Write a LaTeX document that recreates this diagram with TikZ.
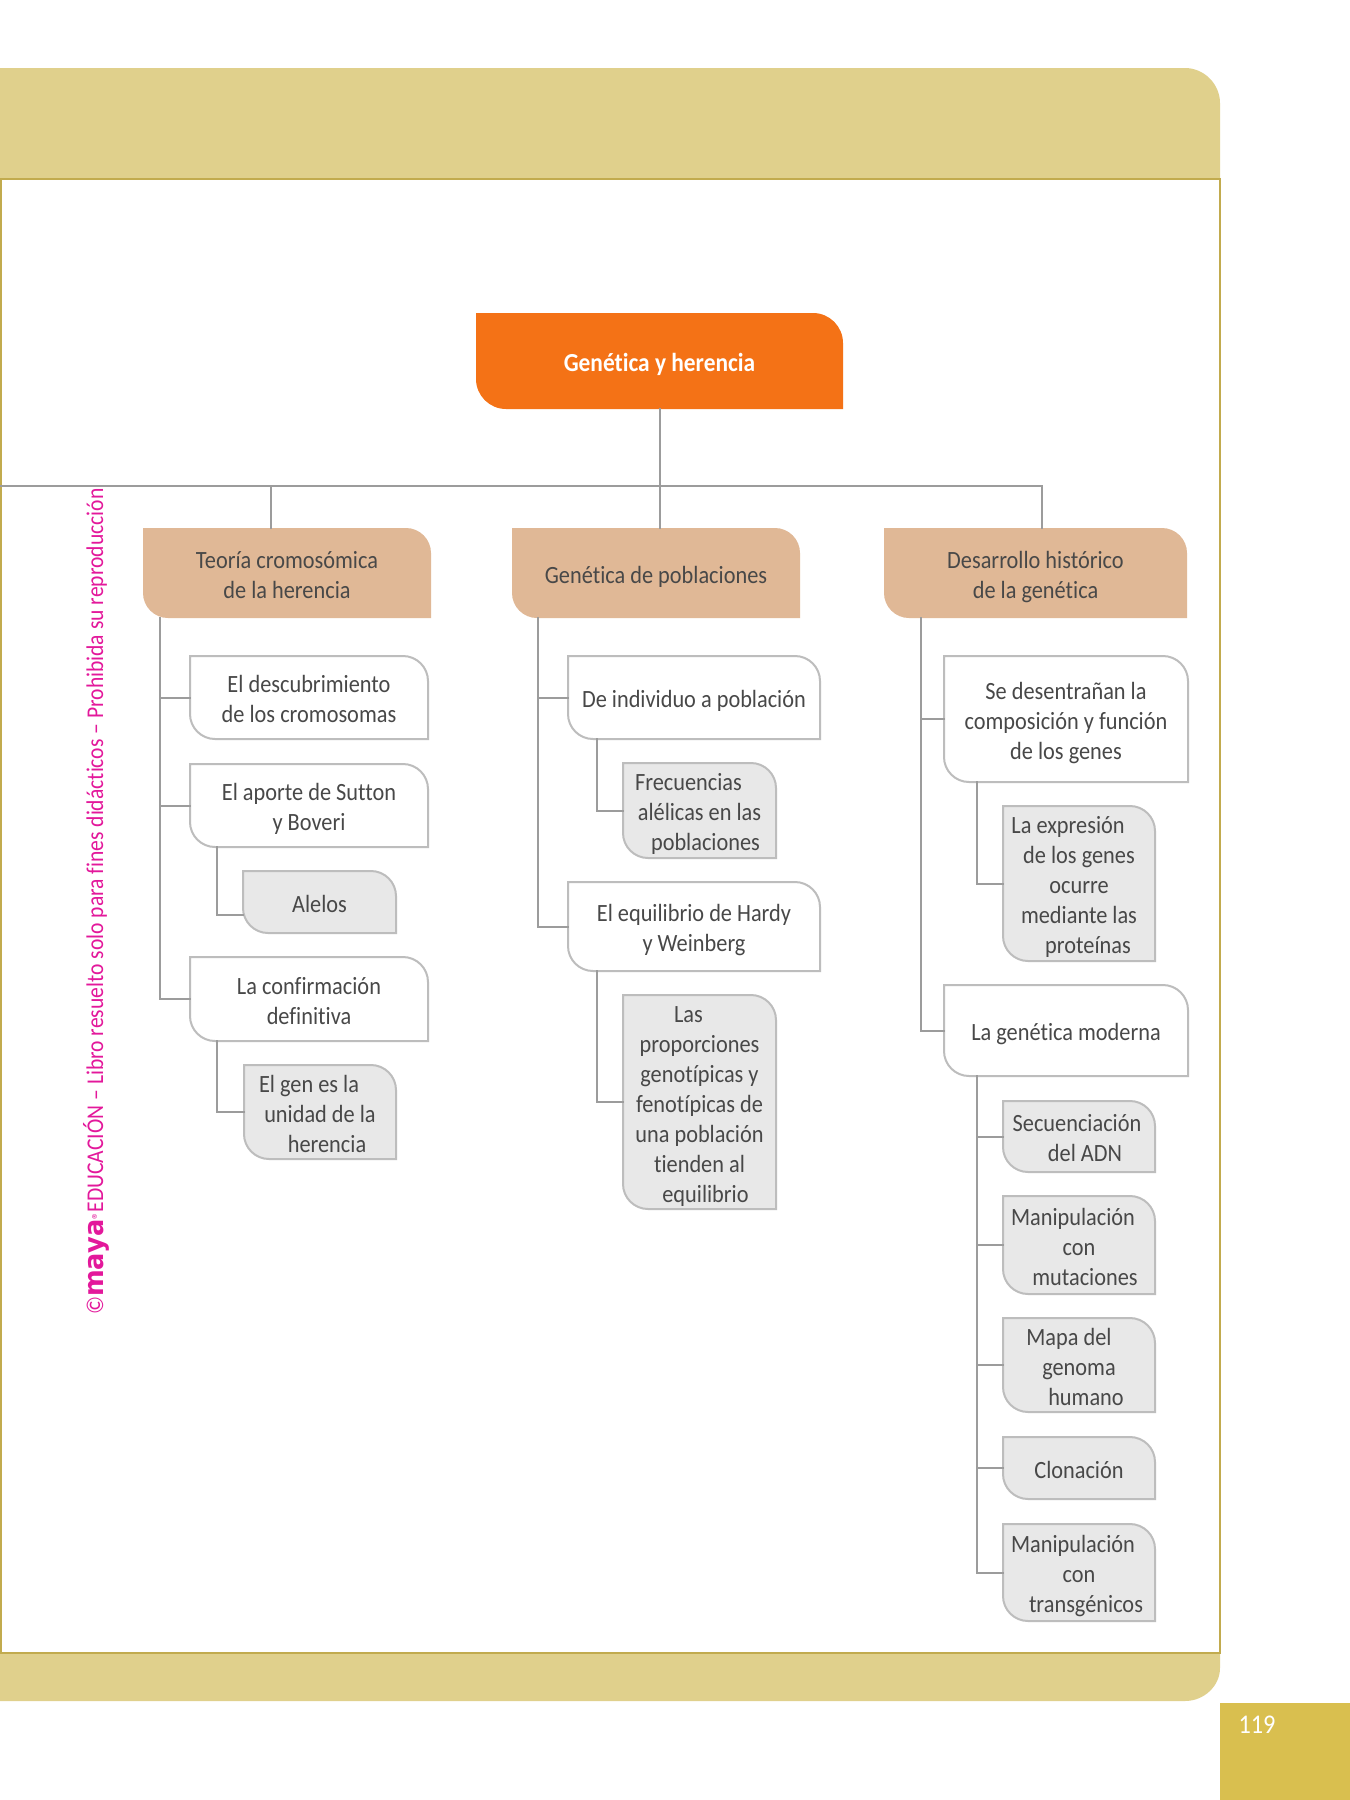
\documentclass[tikz,border=0pt]{standalone}
\usepackage{fontspec}
\setmainfont[FakeStretch=0.9,Ligatures=NoCommon]{Carlito}
\definecolor{band}{HTML}{E0D08C}
\definecolor{framec}{HTML}{C2AB4E}
\definecolor{pagec}{HTML}{D9BF4F}
\definecolor{orangec}{HTML}{F47216}
\definecolor{tanc}{HTML}{E0B896}
\definecolor{grayf}{HTML}{E8E8E8}
\definecolor{bordc}{HTML}{BDBDBD}
\definecolor{linec}{HTML}{9C9C9C}
\definecolor{magc}{HTML}{E3189B}
\definecolor{textc}{HTML}{484848}
\tikzset{
  conn/.style={draw=linec,line width=1pt,line cap=rect},
  orangebox/.style={fill=orangec},
  tanbox/.style={fill=tanc},
  whitebox/.style={draw=bordc,line width=1pt,fill=white},
  graybox/.style={draw=bordc,line width=1pt,fill=grayf},
  lbl/.style={inner sep=0pt,outer sep=0pt,font=\fontsize{12.4}{15}\selectfont,text=textc}
}
% \bx{style}{name}{x1}{y1}{x2}{y2}{r}{text}
\newcommand{\bx}[8]{%
  \pgfmathsetmacro{\bxxa}{#3}\pgfmathsetmacro{\bxya}{#4}\pgfmathsetmacro{\bxxb}{#5}\pgfmathsetmacro{\bxyb}{#6}%
  \pgfmathsetmacro{\bxra}{#5-#7}\pgfmathsetmacro{\bxrb}{#5-0.45*#7}\pgfmathsetmacro{\bxrc}{#4+0.45*#7}\pgfmathsetmacro{\bxrd}{#4+#7}%
  \pgfmathsetmacro{\bxre}{#3+#7}\pgfmathsetmacro{\bxrf}{#3+0.45*#7}\pgfmathsetmacro{\bxrg}{#6-0.45*#7}\pgfmathsetmacro{\bxrh}{#6-#7}%
  \path[#1] (\bxxa,\bxya) -- (\bxra,\bxya) .. controls (\bxrb,\bxya) and (\bxxb,\bxrc) .. (\bxxb,\bxrd) -- (\bxxb,\bxyb) -- (\bxre,\bxyb) .. controls (\bxrf,\bxyb) and (\bxxa,\bxrg) .. (\bxxa,\bxrh) -- cycle;%
  \pgfmathsetmacro{\bxcx}{(#3+#5)/2}\pgfmathsetmacro{\bxcy}{(#4+#6)/2}%
  \pgfmathsetmacro{\bxw}{(#5-#3)*0.5}\pgfmathsetmacro{\bxh}{(#6-#4)*0.5}%
  \node[lbl,minimum width=\bxw pt,minimum height=\bxh pt] (#2) at (\bxcx,\bxcy) {\raisebox{-2.2pt}[\height][\depth]{\begin{tabular}{@{}c@{}}#8\end{tabular}}};%
}
\newcommand{\sh}[1]{\hspace*{#1pt}}
\begin{document}
\begin{tikzpicture}[x=0.5pt,y=-0.5pt]
\useasboundingbox (0,0) rectangle (1350,1800);
\fill[white] (0,0) rectangle (1350,1800);
% page furniture
\fill[band] (0,68) -- (1185,68) .. controls (1204,68) and (1220,84) .. (1220,103) -- (1220,179) -- (0,179) -- cycle;
\fill[band] (0,1653) -- (1220,1653) -- (1220,1668) .. controls (1220,1686) and (1204,1701) .. (1185,1701) -- (0,1701) -- cycle;
\draw[framec,line width=0.6pt] (1,179) -- (1220,179) -- (1220,1653) -- (1,1653) -- cycle;
\fill[pagec] (1220,1703) rectangle (1350,1800);
\node[inner sep=0pt,text=white,font=\fontsize{13.5}{15}\selectfont] (pnum) at (1257,1725) {119};
\node[rotate=90,anchor=east,inner sep=0pt,text=magc,font=\fontsize{12}{14}\selectfont] (credit) at (96,488) {©{\fontspec[FakeStretch=0.95]{DejaVu Sans}\bfseries\fontsize{13.5}{14}\selectfont maya}{\fontsize{8}{8}\selectfont ®}EDUCACIÓN – Libro resuelto solo para fines didácticos – Prohibida su reproducción};

% boxes
\bx{orangebox}{root}{476}{313}{843}{409}{30}{\textcolor{white}{\fontsize{13}{15}\selectfont\bfseries Genética y herencia}}
\bx{tanbox}{teoria}{143}{528}{431}{618}{25}{Teoría cromosómica\\de la herencia}
\bx{tanbox}{poblac}{512}{528}{800}{618}{25}{Genética de poblaciones}
\bx{tanbox}{desarr}{884}{528}{1187}{618}{25}{Desarrollo histórico\\de la genética}

\bx{whitebox}{descub}{190}{656}{428}{739}{25}{El descubrimiento\\de los cromosomas}
\bx{whitebox}{aporte}{190}{764}{428}{847}{25}{El aporte de Sutton\\y Boveri}
\bx{graybox}{alelos}{243}{871}{396}{933}{25}{Alelos}
\bx{whitebox}{confir}{190}{957}{428}{1041}{25}{La confirmación\\definitiva}
\bx{graybox}{gen}{244}{1065}{396}{1159}{25}{\sh{-11}El gen es la\\unidad de la\\\sh{7}herencia}

\bx{whitebox}{indiv}{568}{656}{820}{739}{25}{De individuo a población}
\bx{graybox}{frecu}{623}{763}{776}{858}{25}{\sh{-11}Frecuencias\\alélicas en las\\\sh{6}poblaciones}
\bx{whitebox}{hardy}{568}{882}{820}{971}{25}{El equilibrio de Hardy\\y Weinberg}
\bx{graybox}{propor}{623}{995}{776}{1209}{25}{\sh{-11}Las\\proporciones\\genotípicas y\\fenotípicas de\\una población\\tienden al\\\sh{6}equilibrio}

\bx{whitebox}{desen}{944}{656}{1188}{782}{25}{Se desentrañan la\\composición y función\\de los genes}
\bx{graybox}{expre}{1003}{806}{1155}{961}{25}{\sh{-11}La expresión\\de los genes\\ocurre\\mediante las\\\sh{9}proteínas}
\bx{whitebox}{moder}{944}{985}{1188}{1076}{25}{La genética moderna}
\bx{graybox}{secu}{1003}{1101}{1155}{1172}{25}{\sh{-2}Secuenciación\\\sh{6}del ADN}
\bx{graybox}{mutac}{1003}{1196}{1155}{1294}{25}{\sh{-6}Manipulación\\con\\\sh{6}mutaciones}
\bx{graybox}{mapa}{1003}{1318}{1155}{1412}{25}{\sh{-10}Mapa del\\genoma\\\sh{7}humano}
\bx{graybox}{clon}{1003}{1437}{1155}{1499}{25}{Clonación}
\bx{graybox}{trans}{1003}{1524}{1155}{1621}{25}{\sh{-6}Manipulación\\con\\\sh{7}transgénicos}

% connector anchors
\coordinate (hub) at (root.south |- 0,486);
\coordinate (leftend) at (0,486);
\coordinate (dropT) at (271,486);
\coordinate (dropD) at (1042,486);
\coordinate (trunkT) at (160,618);
\coordinate (trunkG) at (538,618);
\coordinate (trunkD) at (921,618);
\coordinate (subA) at (217,847);
\coordinate (subC) at (217,1041);
\coordinate (subI) at (597,739);
\coordinate (subH) at (597,971);
\coordinate (subS) at (977,782);
\coordinate (subM) at (977,1076);

% connectors
\draw[conn] (root.south) -- (hub);
\draw[conn] (leftend) -- (dropD);
\draw[conn] (dropT) -- (dropT |- teoria.north);
\draw[conn] (hub) -- (hub |- poblac.north);
\draw[conn] (dropD) -- (dropD |- desarr.north);

\draw[conn] (trunkT) -- (trunkT |- confir.west) -- (confir.west);
\draw[conn] (trunkT |- descub.west) -- (descub.west);
\draw[conn] (trunkT |- aporte.west) -- (aporte.west);
\draw[conn] (subA) -- (subA |- 0,915) -- (alelos.west |- 0,915);
\draw[conn] (subC) -- (subC |- gen.west) -- (gen.west);

\draw[conn] (trunkG) -- (trunkG |- hardy.west) -- (hardy.west);
\draw[conn] (trunkG |- indiv.west) -- (indiv.west);
\draw[conn] (subI) -- (subI |- frecu.west) -- (frecu.west);
\draw[conn] (subH) -- (subH |- propor.west) -- (propor.west);

\draw[conn] (trunkD) -- (trunkD |- moder.west) -- (moder.west);
\draw[conn] (trunkD |- desen.west) -- (desen.west);
\draw[conn] (subS) -- (subS |- expre.west) -- (expre.west);
\draw[conn] (subM) -- (subM |- trans.west) -- (trans.west);
\draw[conn] (subM |- secu.west) -- (secu.west);
\draw[conn] (subM |- mutac.west) -- (mutac.west);
\draw[conn] (subM |- mapa.west) -- (mapa.west);
\draw[conn] (subM |- clon.west) -- (clon.west);
\end{tikzpicture}
\end{document}
